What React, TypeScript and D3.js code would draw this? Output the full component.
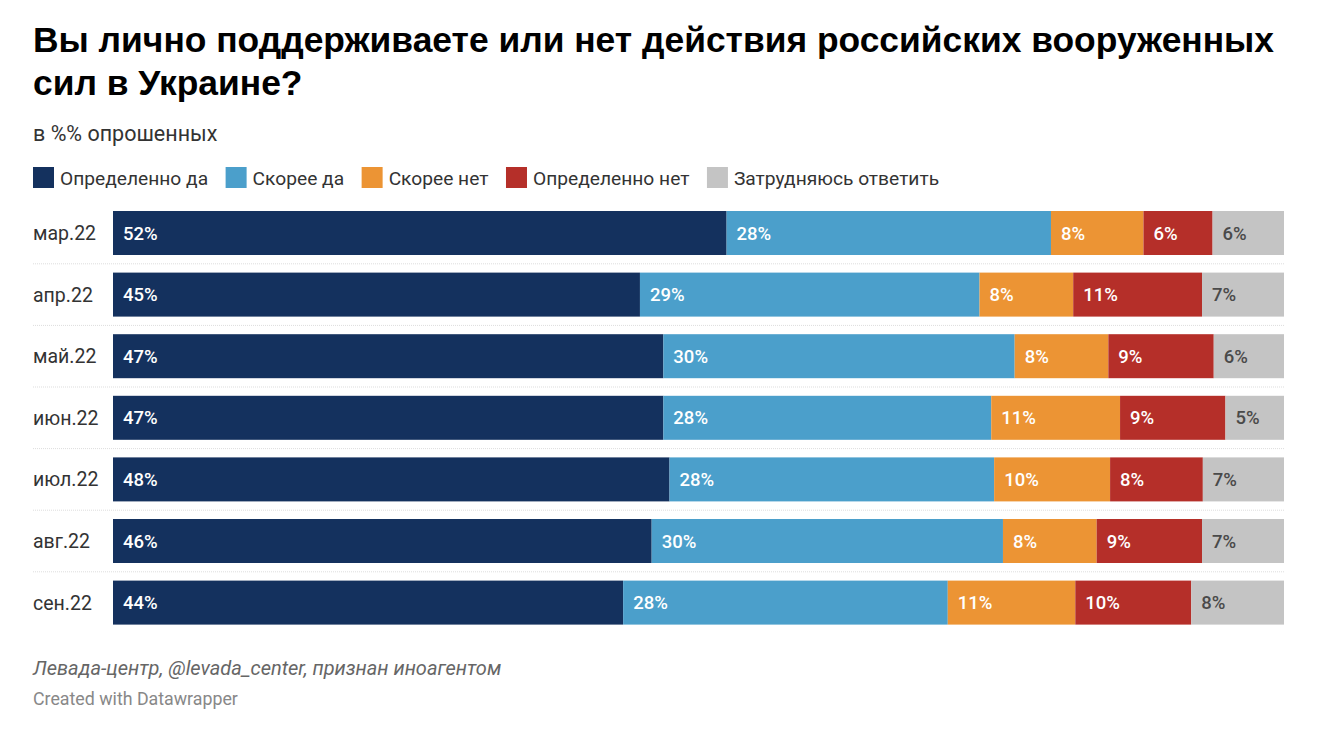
import React, { useEffect, useRef } from "react";
import * as d3 from "d3";

const categories = ["мар.22", "апр.22", "май.22", "июн.22", "июл.22", "авг.22", "сен.22"];
const seriesNames = ["Определенно да", "Скорее да", "Скорее нет", "Определенно нет", "Затрудняюсь ответить"];
const defYes = [52.4, 45, 47, 47, 48, 46, 44];
const ratherYes = [27.7, 29, 30, 28, 28, 30, 28];
const ratherNo = [7.9, 8, 8, 11, 10, 8, 11];
const defNo = [5.9, 11, 9, 9, 8, 9, 10];
const hardToSay = [6.1, 7, 6, 5, 7, 7, 8];
const colors = ["#14315e", "#4b9fcb", "#ec9434", "#b52f29", "#c4c4c4"];
const labelColors = ["#ffffff", "#ffffff", "#ffffff", "#ffffff", "#4a4a4a"];

const W = 1332;
const H = 734;
const FONT = "Roboto, 'Liberation Sans', Arial, sans-serif";
const TFONT = "'Liberation Sans', Arial, sans-serif";

export default function App() {
  const ref = useRef<SVGSVGElement>(null);
  useEffect(() => {
    const svg = d3.select(ref.current);
    svg.selectAll("*").remove();
    svg.append("rect").attr("width", W).attr("height", H).attr("fill", "#fff");

    // Title
    const title = svg.append("text").attr("font-family", TFONT).attr("font-weight", 700)
      .attr("font-size", 35.4).attr("fill", "#000");
    title.append("tspan").attr("x", 33).attr("y", 52).text("Вы лично поддерживаете или нет действия российских вооруженных");
    title.append("tspan").attr("x", 33).attr("y", 95).text("сил в Украине?");

    svg.append("text").attr("x", 33).attr("y", 141).attr("font-family", FONT).attr("font-size", 21.5)
      .attr("fill", "#333").text("в %% опрошенных");

    // Legend
    const series = [defYes, ratherYes, ratherNo, defNo, hardToSay];
    let lx = 33;
    seriesNames.forEach((name, i) => {
      svg.append("rect").attr("x", lx).attr("y", 167).attr("width", 21).attr("height", 21).attr("fill", colors[i]);
      const t = svg.append("text").attr("x", lx + 27).attr("y", 184.5).attr("font-family", FONT)
        .attr("font-size", 19.2).attr("fill", "#333").text(name);
      const w = (t.node() as SVGTextElement).getComputedTextLength();
      lx = lx + 27 + w + 17.5;
    });

    // Bars
    const x0 = 113, x1 = 1284;
    const step = 61.6, barH = 44;
    const y = d3.scaleBand().domain(categories)
      .range([211, 211 + step * (categories.length - 1) + barH])
      .paddingInner((step - barH) / step).paddingOuter(0);
    categories.forEach((cat, r) => {
      const vals = series.map((s) => s[r]);
      const total = d3.sum(vals);
      const x = d3.scaleLinear().domain([0, total]).range([x0, x1]);
      const by = y(cat)!;
      const bh = y.bandwidth();
      svg.append("text").attr("x", 33).attr("y", by + bh / 2 + 7).attr("font-family", FONT)
        .attr("font-size", 19.5).attr("fill", "#333").text(cat);
      let cum = 0;
      vals.forEach((v, i) => {
        const xs = x(cum), xe = x(cum + v);
        svg.append("rect").attr("x", xs).attr("y", by).attr("width", xe - xs).attr("height", bh)
          .attr("fill", colors[i]);
        svg.append("text").attr("x", xs + 10).attr("y", by + bh / 2 + 6.5).attr("font-family", FONT)
          .attr("font-size", 18.5).attr("font-weight", 500).attr("fill", labelColors[i])
          .text(Math.round(v) + "%");
        cum += v;
      });
      if (r < categories.length - 1) {
        const sy = by + bh + (step - bh) / 2;
        svg.append("line").attr("x1", 33).attr("x2", x1).attr("y1", sy).attr("y2", sy)
          .attr("stroke", "#ddd").attr("stroke-width", 1).attr("stroke-dasharray", "1,1");
      }
    });

    svg.append("text").attr("x", 33).attr("y", 675).attr("font-family", FONT).attr("font-style", "italic")
      .attr("font-size", 20).attr("fill", "#666").text("Левада-центр, @levada_center, признан иноагентом");
    svg.append("text").attr("x", 33).attr("y", 705).attr("font-family", FONT)
      .attr("font-size", 17.8).attr("fill", "#888").text("Created with Datawrapper");
  }, []);
  return (
    <svg ref={ref} width={W} height={H} style={{ position: "absolute", left: 0, top: 0 }} />
  );
}
